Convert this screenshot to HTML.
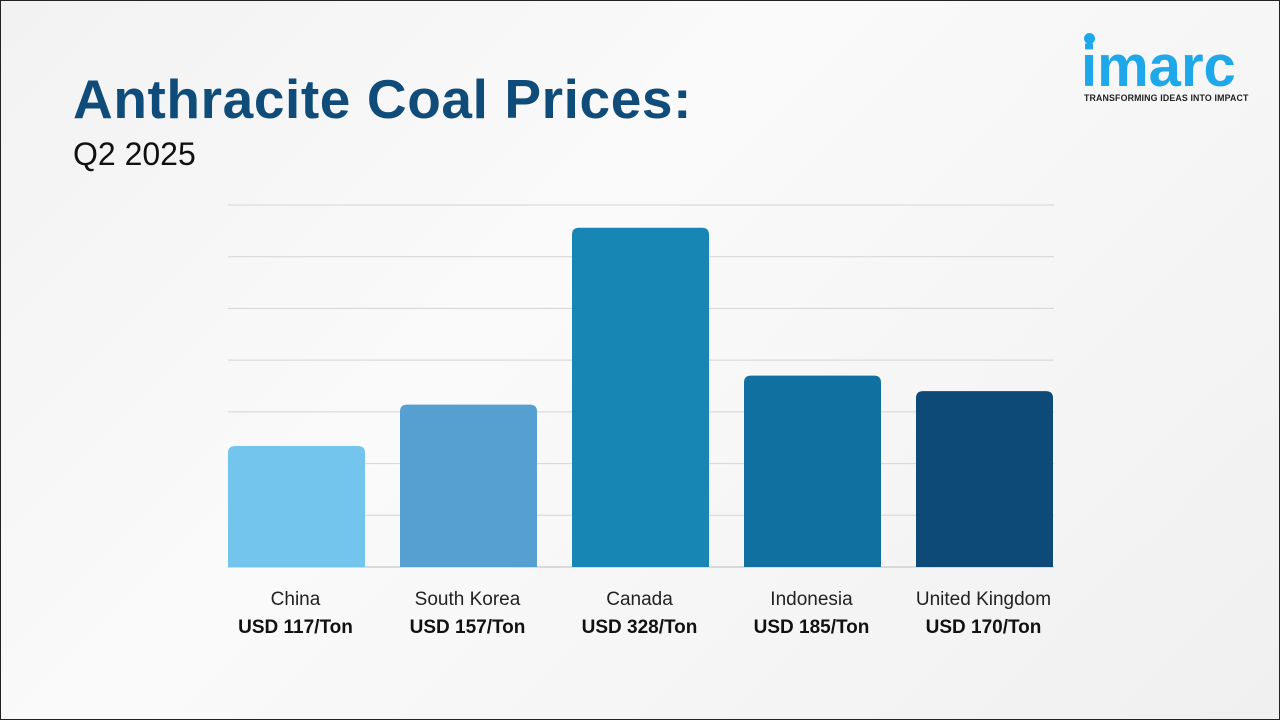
<!DOCTYPE html>
<html><head><meta charset="utf-8"><style>
body{margin:0;width:1280px;height:720px;overflow:hidden;font-family:"Liberation Sans",sans-serif;}
#page{position:relative;width:1278px;height:718px;border:1px solid #222;background:linear-gradient(135deg,#f2f2f2 0%,#fafafa 40%,#f0f0f0 100%);}
.t{position:absolute;}
</style></head><body>
<div id="page">
<div class="t" style="left:72px;top:66px;font-size:55px;letter-spacing:0.6px;font-weight:bold;color:#0f4c7a;white-space:nowrap;">Anthracite Coal Prices:</div>
<div class="t" style="left:72px;top:135px;font-size:32px;color:#111;">Q2 2025</div>
<div class="t" style="left:1080px;top:28px;width:170px;">
<div style="position:absolute;left:3px;top:4px;width:11px;height:11px;border-radius:50%;background:#1ea8ea;"></div>
<div style="position:absolute;left:0;top:4px;font-size:58px;font-weight:bold;color:#1ea8ea;letter-spacing:0px;">imarc</div>
<div style="position:absolute;left:3px;top:64px;font-size:8.8px;letter-spacing:0.15px;font-weight:bold;color:#222;white-space:nowrap;">TRANSFORMING IDEAS INTO IMPACT</div>
</div>
<svg id="chart" class="t" style="left:0;top:0" width="1280" height="720"></svg>
</div>
<script>
const categories=["China","South Korea","Canada","Indonesia","United Kingdom"];
const values=[117,157,328,185,170];
const valueLabels=["USD 117/Ton","USD 157/Ton","USD 328/Ton","USD 185/Ton","USD 170/Ton"];
const gridTicks=[0,50,100,150,200,250,300,350];
const colors=["#74c5ee","#569fd1","#1786b5","#1070a0","#0e4a78"];
const svg=document.getElementById('chart');
const NS="http://www.w3.org/2000/svg";
const y0=566,yTop=204,maxV=350,x0=227,step=172,bw=137;
const y=v=>y0-v*(y0-yTop)/maxV;
const x=i=>x0+i*step;
function mk(t,a){const e=document.createElementNS(NS,t);for(const k in a)e.setAttribute(k,a[k]);svg.appendChild(e);return e;}
gridTicks.forEach(g=>{
 const l=mk('line',{x1:227,x2:1053,y1:y(g),y2:y(g),stroke:g===0?'#bbb':'#d4d4d4','stroke-width':1});
 
 
});
values.forEach((v,i)=>{
 const r=7;
 const p=mk('path',{d:`M${x(i)},${y0}V${y(v)+r}Q${x(i)},${y(v)} ${x(i)+r},${y(v)}H${x(i)+bw-r}Q${x(i)+bw},${y(v)} ${x(i)+bw},${y(v)+r}V${y0}Z`,fill:colors[i]});
 
 
 const c=mk('text',{x:x(i)+bw/2-1,y:604,'text-anchor':'middle','font-size':19,fill:'#222'});
 c.textContent=categories[i];
 
 
 const t=mk('text',{x:x(i)+bw/2-1,y:632,'text-anchor':'middle','font-size':19,'font-weight':'bold',fill:'#111'});
 t.textContent=valueLabels[i];
 
 
});
</script>
</body></html>
